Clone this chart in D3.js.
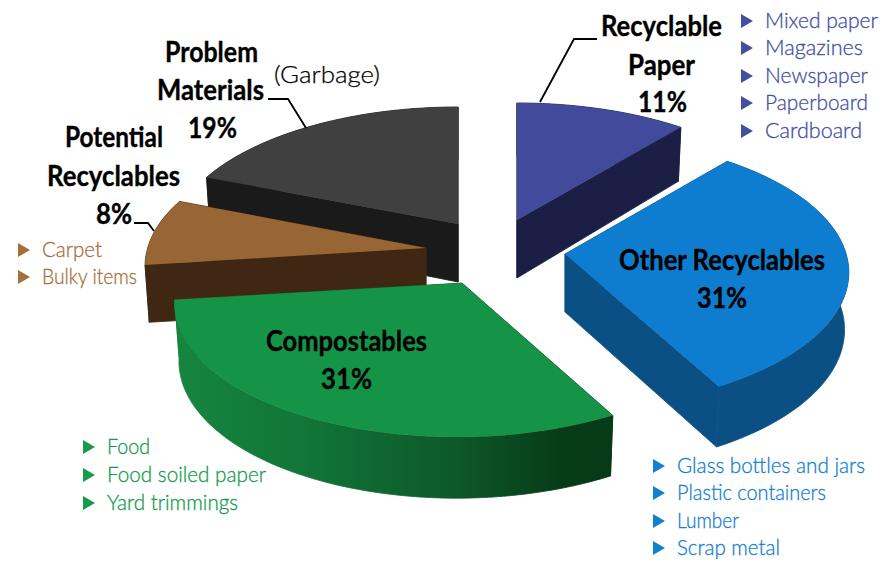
<!DOCTYPE html>
<html lang="en">
<head>
<meta charset="UTF-8">
<title>Waste composition</title>
<script src="https://cdnjs.cloudflare.com/ajax/libs/d3/7.8.5/d3.min.js"></script>
<style>
    html, body { margin: 0; padding: 0; background: #fff; overflow: hidden; }
    text { font-family: Lato, "Open Sans", sans-serif; }
    .big { font-size: 28px; font-weight: 700; fill: #000; stroke: #000; stroke-width: 0.35; }
    .item { font-size: 21px; font-weight: 300; stroke-width: 0.3; }
    .lead { fill: none; stroke: #000; stroke-width: 1.8; }
</style>
</head>
<body>
<svg id="chart" width="882" height="562"></svg>
<script>
    /* data */
    const categories = ["Recyclable Paper", "Other Recyclables", "Compostables", "Potential Recyclables", "Problem Materials"];
    const shares = [11, 31, 31, 8, 19];
    const paperItems = ["Mixed paper", "Magazines", "Newspaper", "Paperboard", "Cardboard"];
    const otherItems = ["Glass bottles and jars", "Plastic containers", "Lumber", "Scrap metal"];
    const compostItems = ["Food", "Food soiled paper", "Yard trimmings"];
    const potentialItems = ["Carpet", "Bulky items"];

    /* layout */
    const apex = [[517, 220], [565, 254], [462, 283], [426, 248], [458, 224]];
    const sliceScale = [1, 0.99, 1, 0.98, 1];
    const sliceShear = [0, 0, -0.035, 0, 0];
    const topColor = ["#424b9b", "#0f7dcf", "#159447", "#986534", "#404040"];
    const sideColor = ["#1b1f45", "#0b5085", "url(#greenSide)", "#3f2714", "#1a1a1a"];
    const drawOrder = [4, 3, 0, 1, 2];
    const perspective = 0.1365, depth = 58;

    const svg = d3.select("#chart");

    const grad = svg.append("defs").append("linearGradient")
        .attr("id", "greenSide").attr("gradientUnits", "userSpaceOnUse")
        .attr("x1", -286).attr("x2", 150).attr("y1", 0).attr("y2", 0);
    grad.append("stop").attr("offset", "0").attr("stop-color", "#15853f");
    grad.append("stop").attr("offset", "0.3").attr("stop-color", "#117537");
    grad.append("stop").attr("offset", "0.65").attr("stop-color", "#0d5729");
    grad.append("stop").attr("offset", "0.9").attr("stop-color", "#073a17");
    grad.append("stop").attr("offset", "1").attr("stop-color", "#073a17");

    /* pie seen in perspective: near side of the ring is drawn larger */
    const xScale = d3.scaleLinear().domain([-1, 1]).range([-284, 284]);
    const yScale = d3.scaleLinear().domain([-1, 1]).range([133, -133]);
    const project = (a, i, low) => {
        const p = 1 / (1 + perspective * Math.cos(a));
        const s = low ? 0.985 : 1;
        const y = yScale(Math.cos(a) * p);
        return [
            (xScale(Math.sin(a) * p) * sliceScale[i] + sliceShear[i] * y) * s,
            y + (low ? depth * Math.sqrt(p) * 0.98 : 0)
        ];
    };

    const line = d3.line();
    const slices = d3.pie().sort(null)(shares);

    drawOrder.forEach((i) => {
        const d = slices[i];
        const g = svg.append("g").attr("transform", `translate(${apex[i]})`);
        const angles = d3.range(0, 61).map(k => d.startAngle + (d.endAngle - d.startAngle) * k / 60);
        const rim = angles.map(a => project(a, i, false));
        const rimLow = angles.map(a => project(a, i, true));
        const startEdge = [[0, 0], rim[0], rimLow[0], [0, depth]];
        const endEdge = [[0, 0], rim[60], rimLow[60], [0, depth]];
        const outer = rim.concat(rimLow.slice().reverse());
        [startEdge, endEdge, outer].forEach(pts => {
            g.append("path").attr("d", line(pts) + "Z")
                .attr("fill", sideColor[i])
                .attr("stroke", sideColor[i]).attr("stroke-width", 0.8);
        });
        g.append("path")
            .attr("d", line([[0, 0]].concat(rim)) + "Z")
            .attr("fill", topColor[i]);
    });

    /* leader lines */
    const leaders = [
        [[540, 102], [574, 39], [597, 39]],
        [[268, 99], [288, 99], [306, 128]],
        [[134, 223], [148, 223], [154, 231]]
    ];
    svg.selectAll(".lead").data(leaders).enter().append("path")
        .attr("class", "lead").attr("d", line);

    /* text squeezed to measured widths, the installed fonts run wider */
    const fitted = (cls, x, y, w, t) => svg.append("text").attr("class", cls)
        .attr("x", x).attr("y", y)
        .attr("textLength", w).attr("lengthAdjust", "spacingAndGlyphs")
        .text(t);

    /* big labels */
    const bigLabels = [
        {cat: 0, x: [601, 628, 638], w: [121, 67, 49], y: [36, 75, 112], lines: ["Recyclable", "Paper"]},
        {cat: 1, x: [619, 697], w: [206, 50], y: [270, 308], lines: ["Other Recyclables"]},
        {cat: 2, x: [266, 321], w: [161, 51], y: [351, 389], lines: ["Compostables"]},
        {cat: 3, x: [65, 47, 96], w: [98, 133, 36], y: [147, 186, 224], lines: ["Potential", "Recyclables"]},
        {cat: 4, x: [165, 157, 188], w: [93, 107, 49], y: [62, 100, 138], lines: ["Problem", "Materials"]}
    ];
    bigLabels.forEach((l) => {
        l.lines.concat(`${shares[l.cat]}%`).forEach((t, k) => {
            fitted("big", l.x[k], l.y[k], l.w[k], t);
        });
    });
    fitted("garbage", 274, 83, 106, "(Garbage)")
        .style("font-size", "24px").style("font-weight", 300)
        .attr("stroke", "#000").attr("stroke-width", 0.25);

    /* bullet lists */
    const lists = [
        {items: paperItems, x: 741, y: [28, 55, 83, 110, 138], w: [113, 98, 103, 103, 97], color: "#4350a0"},
        {items: otherItems, x: 653, y: [473, 500, 528, 555], w: [188, 149, 62, 103], color: "#1280d0"},
        {items: compostItems, x: 83, y: [454, 482, 510], w: [43, 159, 131], color: "#169a4c"},
        {items: potentialItems, x: 18, y: [257, 284], w: [60, 95], color: "#a46f3a"}
    ];
    lists.forEach((l) => {
        l.items.forEach((t, k) => {
            const y = l.y[k];
            svg.append("path")
                .attr("d", line([[l.x, y - 14], [l.x + 12, y - 7], [l.x, y]]) + "Z")
                .attr("fill", l.color);
            fitted("item", l.x + 24, y, l.w[k], t).attr("fill", l.color).attr("stroke", l.color);
        });
    });
</script>
</body>
</html>
